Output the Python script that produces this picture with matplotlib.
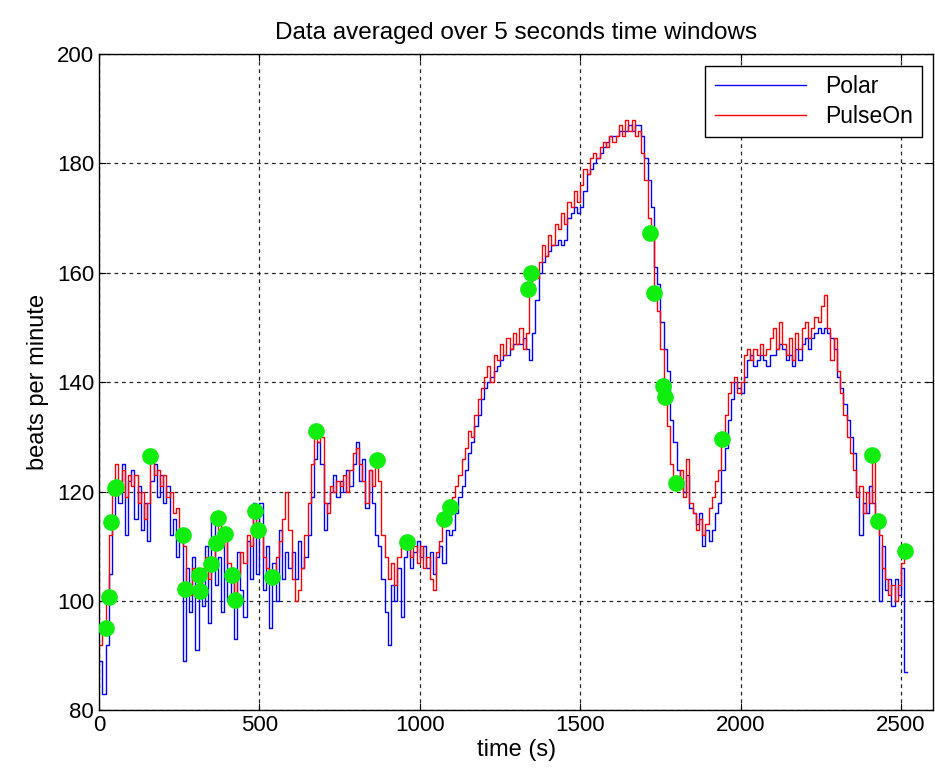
import numpy as np
import matplotlib
matplotlib.use('Agg')
from matplotlib import pyplot as plt

plt.rcParams['font.family'] = ['Liberation Sans', 'DejaVu Sans']

# 10 s sampling of the 5 s averaged heart rate curves
step_s = 10
polar = [
    89, 83, 92, 105, 114, 121, 118, 125, 112, 122,
    124, 115, 121, 113, 118, 111, 122, 125, 119, 123,
    118, 121, 112, 115, 108, 112, 89, 106, 98, 108,
    91, 104, 99, 110, 96, 115, 103, 108, 98, 112,
    100, 106, 93, 109, 102, 97, 111, 104, 118, 105,
    118, 102, 110, 95, 107, 100, 113, 104, 109, 106,
    109, 104, 111, 106, 108, 112, 119, 126, 129, 125,
    113, 118, 120, 123, 119, 122, 120, 124, 121, 125,
    129, 122, 126, 117, 124, 118, 112, 110, 104, 98,
    92, 103, 100, 106, 97, 108, 110, 106, 109, 111,
    108, 110, 106, 109, 105, 108, 110, 107, 113, 112,
    113, 116, 119, 121, 124, 127, 129, 132, 134, 137,
    139, 140, 141, 142, 143, 144, 145, 145, 146, 147,
    147, 147, 148, 146, 144, 149, 155, 160, 162, 163,
    164, 165, 165, 166, 165, 166, 170, 171, 172, 171,
    172, 175, 178, 179, 180, 181, 182, 183, 184, 185,
    185, 185, 186, 186, 186, 187, 186, 187, 187, 185,
    181, 177, 172, 161, 158, 151, 146, 142, 133, 129,
    124, 122, 120, 123, 117, 116, 114, 116, 110, 113,
    111, 113, 116, 118, 124, 128, 133, 137, 140, 139,
    138, 141, 144, 145, 143, 144, 145, 144, 143, 145,
    145, 146, 147, 146, 144, 145, 143, 146, 144, 147,
    148, 146, 148, 149, 150, 149, 150, 149, 148, 146,
    141, 139, 136, 133, 130, 127, 120, 112, 118, 116,
    121, 118, 114, 100, 110, 102, 104, 99, 104, 101,
    106, 87,
]
pulseon = [
    92, 96, 101, 112, 121, 125, 122, 124, 119, 123,
    121, 123, 118, 120, 115, 118, 126, 123, 124, 121,
    123, 119, 120, 116, 117, 113, 110, 103, 101, 106,
    104, 103, 106, 108, 104, 107, 111, 115, 110, 112,
    107, 104, 101, 105, 109, 107, 112, 110, 116, 113,
    112, 108, 106, 104, 105, 108, 111, 115, 120, 113,
    104, 100, 102, 106, 112, 118, 125, 131, 129, 130,
    118, 116, 121, 120, 122, 121, 123, 120, 124, 127,
    128, 125, 122, 118, 124, 121, 126, 122, 112, 108,
    104, 107, 103, 108, 111, 110, 111, 108, 110, 107,
    110, 106, 108, 104, 102, 109, 111, 114, 116, 117,
    119, 121, 123, 126, 128, 131, 130, 134, 137, 139,
    141, 143, 140, 145, 144, 147, 145, 148, 146, 149,
    147, 150, 146, 149, 158, 160, 159, 162, 165, 163,
    167, 165, 169, 168, 171, 169, 173, 172, 175, 173,
    176, 179, 178, 181, 182, 181, 183, 184, 183, 185,
    184, 185, 187, 185, 188, 186, 188, 185, 186, 182,
    177, 170, 167, 156, 153, 146, 138, 132, 125, 122,
    121, 124, 119, 126, 118, 116, 113, 115, 112, 114,
    117, 119, 122, 124, 130, 134, 138, 140, 141, 138,
    140, 145, 146, 144, 146, 145, 147, 145, 146, 148,
    150, 146, 151, 147, 145, 148, 144, 149, 146, 150,
    151, 148, 150, 152, 151, 154, 156, 150, 144, 148,
    142, 138, 134, 130, 127, 124, 119, 121, 116, 120,
    118, 126, 115, 112, 106, 104, 101, 103, 100, 103,
    107, 109,
]
t = np.arange(len(polar)) * step_s

# highlighted windows (green dots)
mark_t = [20, 30, 36, 48, 54, 160, 263, 269, 310, 316, 350, 363, 372, 391,
          413, 425, 487, 494, 540, 675, 865, 961, 1076, 1095, 1338, 1346,
          1718, 1731, 1759, 1765, 1797, 1942, 2410, 2428, 2512]
mark_v = [95.1, 100.7, 114.4, 120.7, 120.9, 126.5, 112, 102.2, 104.8, 101.8,
          106.8, 110.6, 115.2, 112.3, 104.8, 100.2, 116.5, 113, 104.4, 131.1,
          125.8, 110.8, 115, 117.2, 157, 160, 167.3, 156.3, 139.3, 137.3,
          121.6, 129.6, 126.7, 114.6, 109.1]

fig = plt.figure(figsize=(9.35, 7.84), dpi=100)
ax = fig.add_axes([0.106, 0.094, 0.892, 0.837])

t_ext = np.append(t, t[-1] + step_s)
ax.step(t_ext, polar + [polar[-1]], where='post', color='#0000ff', lw=1.0, label='Polar')
ax.step(t_ext, pulseon + [pulseon[-1]], where='post', color='#ff0000', lw=1.0, label='PulseOn')
ax.plot(mark_t, mark_v, 'o', color='#10ee10', mec='#10ee10', ms=11, zorder=5)

ax.set_xlim(0, 2600)
ax.set_ylim(80, 200)
ax.set_xticks([0, 500, 1000, 1500, 2000, 2500])
ax.set_yticks([80, 100, 120, 140, 160, 180, 200])
ax.grid(True, color='black', linestyle=(0, (3, 3)), lw=0.9, alpha=0.85)
ax.tick_params(direction='in', top=True, right=True, length=5, labelsize=16)
for s in ax.spines.values():
    s.set_linewidth(1.0)

ax.set_title('Data averaged over 5 seconds time windows', fontsize=17.5, pad=11)
ax.set_xlabel('time (s)', fontsize=17, labelpad=2)
ax.set_ylabel('beats per minute', fontsize=17, labelpad=6)

leg = ax.legend(loc='upper right', fontsize=16.5, handlelength=4, fancybox=False,
                framealpha=1, edgecolor='black', borderaxespad=0.5,
                labelspacing=0.3, borderpad=0.4)
leg.get_frame().set_linewidth(1.0)

fig.savefig('out.png', dpi=100)
